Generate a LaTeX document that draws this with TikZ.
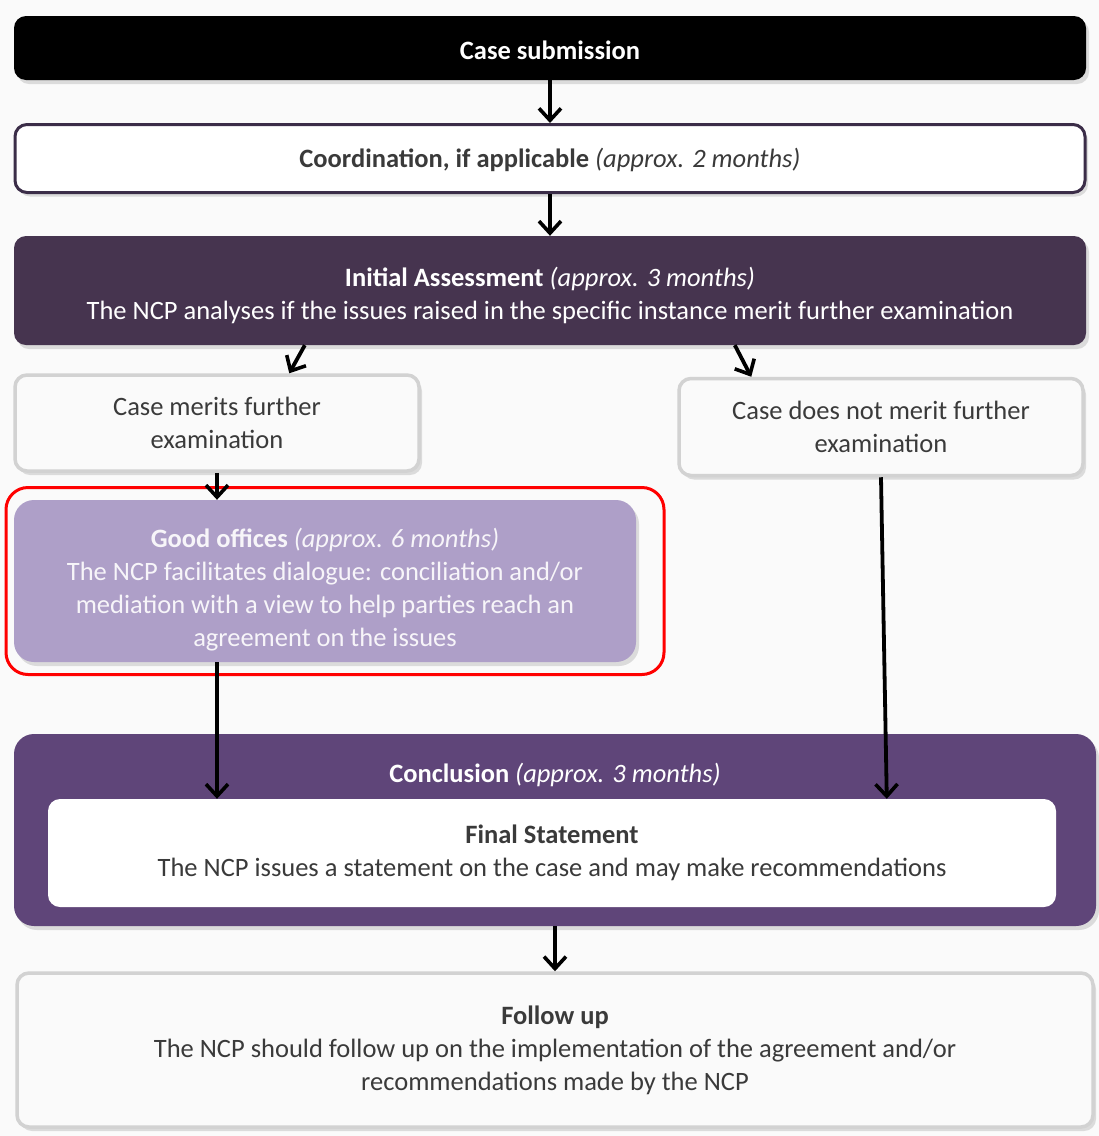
\documentclass[tikz,border=0pt]{standalone}
\usepackage{fontspec}
\setmainfont{Carlito}
\usetikzlibrary{arrows.meta,shadows}
\definecolor{bg}{HTML}{FAFAFA}
\definecolor{darkp}{HTML}{46344F}
\definecolor{midp}{HTML}{5F4579}
\definecolor{lightp}{HTML}{AE9FC8}
\definecolor{grayb}{HTML}{D2D2D2}
\definecolor{txt}{HTML}{3A3A3A}
\definecolor{coordb}{HTML}{3B2D48}
\tikzset{
  base/.style={rounded corners=12pt, align=center, inner sep=0pt,
    font=\fontsize{26.5}{33}\selectfont},
  lbl/.style={align=center, inner sep=0pt, font=\fontsize{26.5}{33}\selectfont},
  shad/.style={drop shadow={opacity=0.25, shadow xshift=3pt, shadow yshift=-4pt}},
  blackbox/.style={base, fill=black, shad},
  coordbox/.style={base, fill=white, draw=coordb, line width=3pt, shad},
  darkbox/.style={base, fill=darkp, shad},
  graybox/.style={base, fill=bg, draw=grayb, line width=3.5pt, text=txt, shad},
  goodbox/.style={base, fill=lightp, rounded corners=20pt, shad},
  concbox/.style={base, fill=midp, rounded corners=20pt, shad},
  finalbox/.style={base, fill=white, text=txt},
  hlbox/.style={draw=red, line width=3pt, rounded corners=22pt, inner sep=0pt},
  arr/.style={line width=3.8pt, -{Straight Barb[length=12pt,width=22pt,line width=3.6pt]}},
}
\begin{document}
\begin{tikzpicture}[x=1pt,y=-1pt]
\useasboundingbox (0,0) rectangle (1099,1136);
\fill[bg] (0,0) rectangle (1099,1136);

\node[blackbox, minimum width=1072pt, minimum height=64pt] (sub) at (550,48) {};
\node[lbl, text=white] (subt) at (550,50) {\textbf{Case submission}};
\node[coordbox, minimum width=1070pt, minimum height=68pt] (coord) at (550,158.5) {};
\node[lbl, text=txt] (coordt) at (550,160)
  {\textbf{Coordination, if applicable} \textit{(approx. 2 months)}};
\node[darkbox, minimum width=1072pt, minimum height=109pt] (init) at (550,290.5) {};
\node[lbl, text=white] (initt) at (550,295)
  {\textbf{Initial Assessment} \textit{(approx. 3 months)}\\
   The NCP analyses if the issues raised in the specific instance merit further examination};
\node[graybox, minimum width=404pt, minimum height=96pt] (merit) at (217,423)
  {Case merits further\\examination};
\node[graybox, minimum width=404pt, minimum height=97pt] (notmerit) at (881,427)
  {Case does not merit further\\examination};
\node[goodbox, minimum width=622pt, minimum height=162pt] (good) at (325,581) {};
\node[lbl, text=white!90!lightp] (goodt) at (325,590)
  {\textbf{Good offices} \textit{(approx. 6 months)}\\
   The NCP facilitates dialogue: conciliation and/or\\
   mediation with a view to help parties reach an\\
   agreement on the issues};
\node[hlbox, minimum width=658pt, minimum height=187pt] (hl) at (335,581) {};
\node[concbox, minimum width=1082pt, minimum height=192pt] (conc) at (555,830) {};
\node[lbl, text=white] (conct) at (555,775)
  {\textbf{Conclusion} \textit{(approx. 3 months)}};
\node[finalbox, minimum width=1008pt, minimum height=108pt] (final) at (552,853)
  {\textbf{Final Statement}\\
   The NCP issues a statement on the case and may make recommendations};
\node[graybox, minimum width=1076pt, minimum height=154pt] (follow) at (555,1050)
  {\textbf{Follow up}\\
   The NCP should follow up on the implementation of the agreement and/or\\
   recommendations made by the NCP};

\draw[arr] (sub.south) -- (coord.north);
\draw[arr] (coord.south) -- (init.north);
\draw[arr] ([xshift=291pt]init.south west) -- ([xshift=276pt]merit.north west);
\draw[arr] ([xshift=721pt]init.south west) -- ([xshift=74pt]notmerit.north west);
\draw[arr] (merit.south) -- (merit.south |- good.north);
\draw[arr] (merit.south |- good.south) -- (merit.south |- final.north);
\draw[arr] (notmerit.south) -- ([xshift=839pt]final.north west);
\draw[arr] (conc.south) -- (follow.north);
\end{tikzpicture}
\end{document}
